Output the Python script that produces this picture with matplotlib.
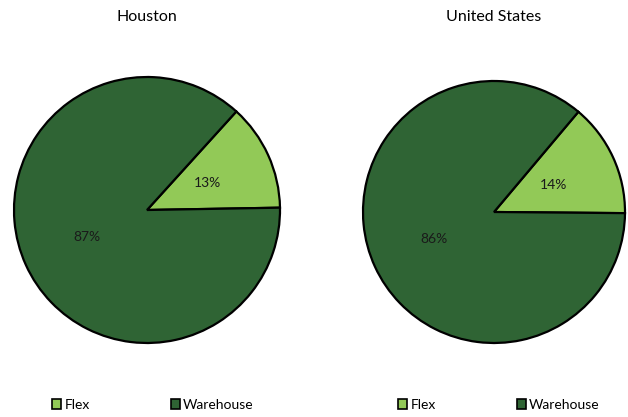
import matplotlib.pyplot as plt
from matplotlib.patches import Patch

plt.rcParams["font.family"] = ["Lato", "DejaVu Sans"]

regions = ["Houston", "United States"]
categories = ["Flex", "Warehouse"]
houston_share = [13, 87]
us_share = [14, 86]

FLEX_COLOR = "#92c957"
WAREHOUSE_COLOR = "#2f6434"
colors = [FLEX_COLOR, WAREHOUSE_COLOR]

W, H = 628, 417
fig = plt.figure(figsize=(W / 100, H / 100), dpi=100)


def px_axes(cx, cy, r):
    """Square axes centred on a pixel position (top-left origin)."""
    return fig.add_axes([(cx - r) / W, (H - cy - r) / H, 2 * r / W, 2 * r / H])


def draw_pie(ax, shares, start):
    wedges, texts, autotexts = ax.pie(
        shares,
        colors=colors,
        startangle=start,
        counterclock=True,
        autopct="%d%%",
        pctdistance=0.5,
        wedgeprops=dict(edgecolor="black", linewidth=1.6),
        textprops=dict(fontsize=10, color="#1a1a1a"),
    )
    for w in wedges:
        w.set_clip_on(False)
    ax.set_xlim(-1, 1)
    ax.set_ylim(-1, 1)
    ax.set_aspect("equal")
    ax.axis("off")


ax1 = px_axes(147, 210, 133)
draw_pie(ax1, houston_share, 1)
ax2 = px_axes(494, 212, 131)
draw_pie(ax2, us_share, -0.5)

# titles above each pie
fig.text(147 / W, 1 - 17 / H, regions[0], ha="center", va="center", fontsize=11.5)
fig.text(494 / W, 1 - 17 / H, regions[1], ha="center", va="center", fontsize=11.5)

handles = [Patch(facecolor=c, edgecolor="black", linewidth=1.2, label=lab)
           for c, lab in zip(colors, categories)]
for cx in (153, 499):
    fig.legend(handles=handles, loc="center", bbox_to_anchor=(cx / W, 1 - 405 / H),
               ncol=2, frameon=False, fontsize=10, handlelength=0.65,
               handleheight=0.65, handletextpad=0.25, columnspacing=5.8,
               borderaxespad=0, borderpad=0)

fig.savefig("out.png", dpi=100)
